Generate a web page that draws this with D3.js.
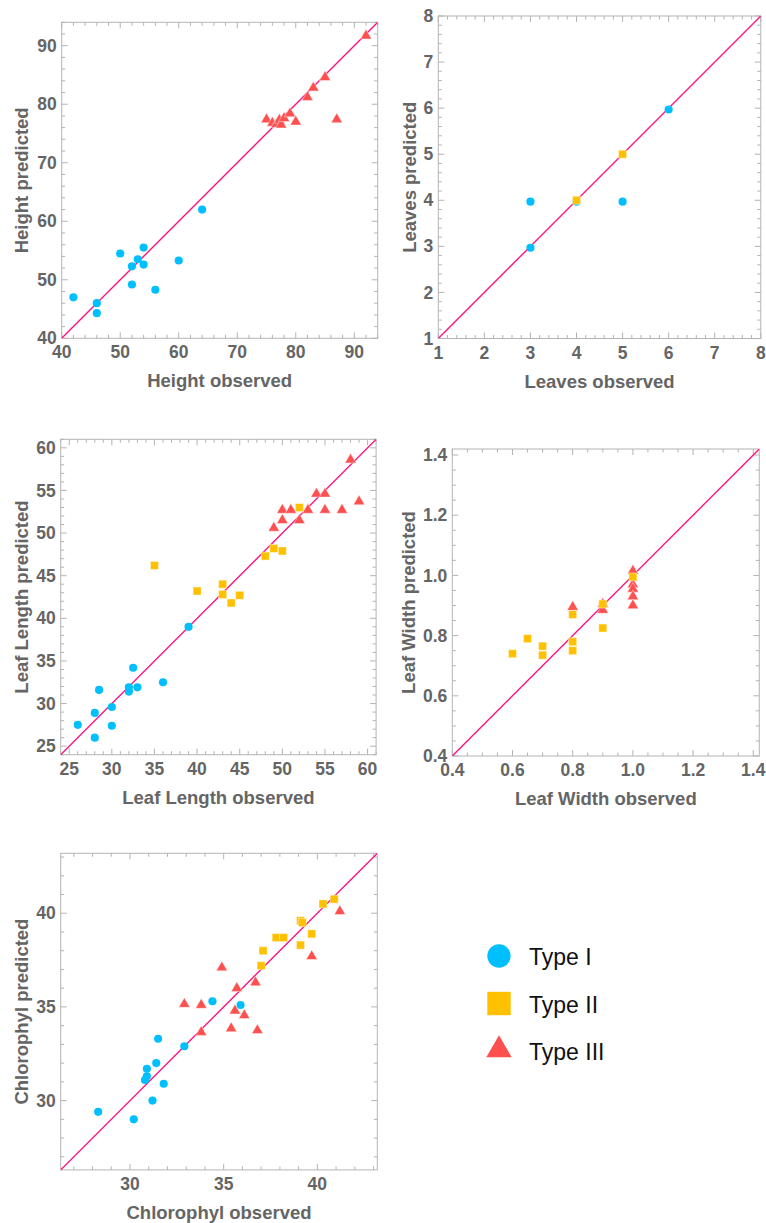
<!DOCTYPE html>
<html>
<head>
<meta charset="utf-8">
<script src="https://cdn.jsdelivr.net/npm/d3@7"></script>
<style>
  body { margin: 0; background: #fff; }
  svg text { font-family: "Liberation Sans", Arial, sans-serif; }
</style>
</head>
<body>
<div class="chart"></div>
<script>
var W = 766, H = 1223;

// ---- data: [observed, predicted] ----
var heightType1 = [[42,47.0],[46,46.0],[46,44.3],[50,54.5],[52,52.3],[52,49.2],[53,53.5],[54,55.5],[54,52.6],[56,48.3],[60,53.3],[64,62.0]];
var heightType3 = [[75,77.4],[76,76.8],[76.7,76.6],[77.2,77.3],[77.5,76.5],[78,77.6],[79,78.4],[80,77.0],[82,81.2],[83,82.8],[85,84.6],[87,77.4],[92,91.7]];

var leavesType1 = [[3,3.97],[3,2.97],[4,3.97],[5,3.97],[6,5.97]];
var leavesType2 = [[4,4.0],[5,5.0]];

var lengthType1 = [[26,27.5],[28,28.9],[28,26.0],[28.5,31.6],[30,29.6],[30,27.4],[32,31.9],[32,31.4],[32.5,34.2],[33,31.9],[36,32.5],[39,39.0]];
var lengthType2 = [[35,46.2],[40,43.2],[43,44.0],[43,42.8],[44,41.8],[45,42.7],[48,47.3],[49,48.2],[50,47.9],[52,53.0]];
var lengthType3 = [[49,50.6],[50,52.7],[50,51.5],[51,52.7],[52,51.5],[53,52.7],[54,54.6],[55,54.6],[55,52.7],[57,52.7],[58,58.6],[59,53.7]];

var widthType2 = [[0.6,0.74],[0.65,0.79],[0.7,0.765],[0.7,0.735],[0.8,0.87],[0.8,0.78],[0.8,0.75],[0.9,0.905],[0.9,0.825],[1.0,0.995]];
var widthType3 = [[0.8,0.895],[0.9,0.905],[0.9,0.885],[1.0,1.015],[1.0,0.97],[1.0,0.955],[1.0,0.93],[1.0,0.9]];

var chloroType1 = [[28.3,29.4],[30.2,29.0],[30.8,31.1],[30.9,31.3],[30.9,31.7],[31.2,30.0],[31.4,32.0],[31.5,33.3],[31.8,30.9],[32.9,32.9],[34.4,35.3],[35.9,35.1]];
var chloroType2 = [[37.0,37.2],[37.1,38.0],[37.8,38.7],[38.2,38.7],[39.1,38.3],[39.1,39.6],[39.2,39.5],[39.7,38.9],[40.3,40.5],[40.9,40.75]];
var chloroType3 = [[32.9,35.15],[33.8,35.1],[33.8,33.65],[34.9,37.1],[35.4,33.85],[35.6,34.8],[35.7,36.0],[36.1,34.55],[36.7,36.3],[36.8,33.75],[39.7,37.7],[41.2,40.1]];

var typeNames = ["Type I", "Type II", "Type III"];

// ---- styling ----
var colors = { 1: "#00bfff", 2: "#ffc000", 3: "#ff5050" };
var shapes = { 1: d3.symbolCircle, 2: d3.symbolSquare, 3: d3.symbolTriangle };
var sizes = { 1: 52, 2: 64, 3: 54 };
var lineColor = "#ff1480";
var textColor = "#656565";
var frameColor = "#b4b4b4";

var panels = [
  { name: "Height", left: 61.7, top: 22.3, size: 316, domain: [40, 94], major: 10, minor: 2, fmt: d3.format("d"), ytOff: 34,
    series: [[1, heightType1], [3, heightType3]] },
  { name: "Leaves", left: 438.3, top: 16, size: 322.5, domain: [1, 8], major: 1, minor: 0.2, fmt: d3.format("d"), ytOff: 22,
    series: [[1, leavesType1], [2, leavesType2]] },
  { name: "Leaf Length", left: 60.7, top: 439.3, size: 315.4, domain: [24, 61], major: 5, minor: 1, fmt: d3.format("d"), ytOff: 33,
    series: [[1, lengthType1], [3, lengthType3], [2, lengthType2]] },
  { name: "Leaf Width", left: 452.3, top: 449, size: 307, domain: [0.4, 1.42], major: 0.2, minor: 0.05, fmt: d3.format(".1f"), ytOff: 37,
    series: [[3, widthType3], [2, widthType2]] },
  { name: "Chlorophyl", left: 60.7, top: 853.3, size: 316.6, domain: [26.3, 43.2], major: 5, minor: 1, fmt: d3.format("d"), ytOff: 33,
    series: [[1, chloroType1], [3, chloroType3], [2, chloroType2]] }
];

var svg = d3.select(".chart").append("svg")
  .attr("width", W).attr("height", H);

function tickValues(domain, step) { // ticks on a fixed step inside the domain
  var out = [];
  var start = Math.ceil(domain[0] / step - 1e-9);
  for (var k = start; k * step <= domain[1] + 1e-9; k++) out.push(+(k * step).toFixed(6));
  return out;
}

panels.forEach(function(p, i) {
  var x = d3.scaleLinear().domain(p.domain).range([0, p.size]);
  var y = d3.scaleLinear().domain(p.domain).range([p.size, 0]);
  var g = svg.append("g").attr("transform", "translate(" + p.left + "," + p.top + ")");

  var majors = tickValues(p.domain, p.major);
  var minors = tickValues(p.domain, p.minor).filter(function(v) {
    return !majors.some(function(m) { return Math.abs(m - v) < 1e-6; });
  });

  // ticks on all four sides, pointing inward
  var tickG = g.append("g").attr("stroke", "#a0a0a0").attr("stroke-width", 0.8);
  [[majors, 6], [minors, 3.5]].forEach(function(pair) {
    pair[0].forEach(function(v) {
      tickG.append("line").attr("x1", x(v)).attr("x2", x(v)).attr("y1", p.size).attr("y2", p.size - pair[1]);
      tickG.append("line").attr("x1", x(v)).attr("x2", x(v)).attr("y1", 0).attr("y2", pair[1]);
      tickG.append("line").attr("y1", y(v)).attr("y2", y(v)).attr("x1", 0).attr("x2", pair[1]);
      tickG.append("line").attr("y1", y(v)).attr("y2", y(v)).attr("x1", p.size).attr("x2", p.size - pair[1]);
    });
  });

  g.append("rect").attr("width", p.size).attr("height", p.size)
    .attr("fill", "none").attr("stroke", frameColor).attr("stroke-width", 1);

  // tick labels
  g.selectAll(".xl").data(majors).enter().append("text")
    .attr("x", function(d) { return x(d); }).attr("y", p.size + 20)
    .attr("text-anchor", "middle").attr("font-size", 17.5).attr("font-weight", "bold")
    .attr("fill", textColor).text(p.fmt);
  g.selectAll(".yl").data(majors).enter().append("text")
    .attr("x", -5).attr("y", function(d) { return y(d); }).attr("dy", "0.35em")
    .attr("text-anchor", "end").attr("font-size", 17.5).attr("font-weight", "bold")
    .attr("fill", textColor).text(p.fmt);

  // axis titles
  g.append("text").attr("x", p.size / 2).attr("y", p.size + 49)
    .attr("text-anchor", "middle").attr("font-size", 18.5).attr("font-weight", "bold")
    .attr("fill", textColor).text(p.name + " observed");
  g.append("text").attr("transform", "translate(" + (-p.ytOff) + "," + (p.size / 2) + ") rotate(-90)")
    .attr("text-anchor", "middle").attr("font-size", 18.5).attr("font-weight", "bold")
    .attr("fill", textColor).text(p.name + " predicted");

  // identity line, clipped to the frame
  var clipId = "clip" + i;
  g.append("clipPath").attr("id", clipId).append("rect").attr("width", p.size).attr("height", p.size);
  g.append("line").attr("clip-path", "url(#" + clipId + ")")
    .attr("x1", x(p.domain[0])).attr("y1", y(p.domain[0]))
    .attr("x2", x(p.domain[1])).attr("y2", y(p.domain[1]))
    .attr("stroke", lineColor).attr("stroke-width", 1.4);

  p.series.forEach(function(s) {
    var t = s[0];
    g.append("g").selectAll("path").data(s[1]).enter().append("path")
      .attr("transform", function(d) { return "translate(" + x(d[0]) + "," + y(d[1]) + ")"; })
      .attr("d", d3.symbol().type(shapes[t]).size(sizes[t]))
      .attr("fill", colors[t])
      .attr("stroke", t == 1 ? "none" : "rgba(255,255,255,0.6)")
      .attr("stroke-width", 0.7);
  });
});

// legend
var legend = svg.append("g").attr("transform", "translate(499,956)");
typeNames.forEach(function(name, i) {
  var t = i + 1;
  var sz = t == 1 ? 430 : (t == 2 ? 548 : 280);
  var row = legend.append("g").attr("transform", "translate(0," + (i * 47.5) + ")");
  row.append("path").attr("d", d3.symbol().type(shapes[t]).size(sz)).attr("fill", colors[t])
    .attr("transform", t == 3 ? "translate(0,-1)" : null);
  row.append("text").attr("x", 30).attr("y", 9)
    .attr("font-family", "'Open Sans', sans-serif").attr("font-size", 23)
    .attr("fill", "#111").text(name);
});
</script>
</body>
</html>
